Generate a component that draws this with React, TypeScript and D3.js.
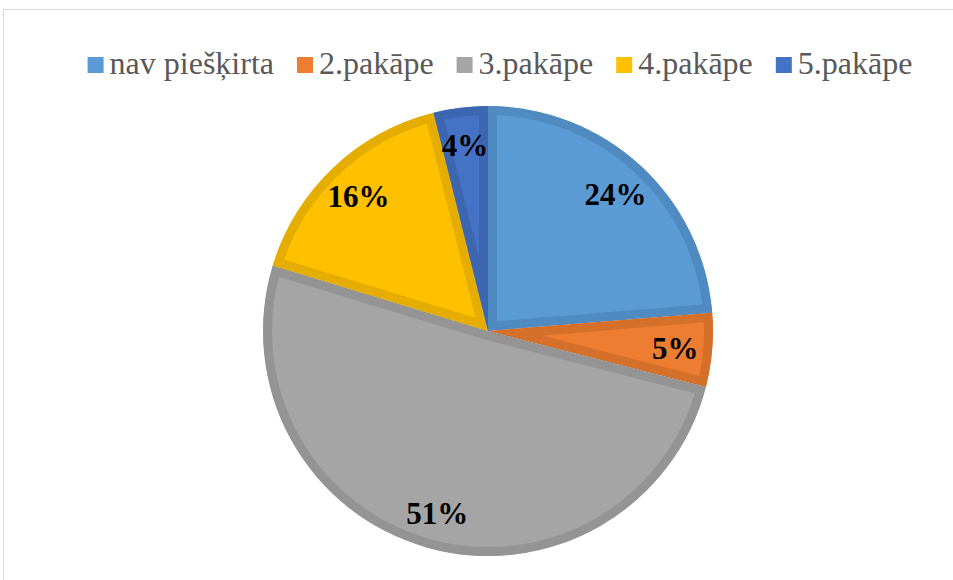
import * as d3 from "d3"
import React, { useEffect, useRef } from "react"

const categories = ["nav piešķirta", "2.pakāpe", "3.pakāpe", "4.pakāpe", "5.pakāpe"]
const shares = [23.7, 5.3, 50.7, 16.4, 3.9]
const fills = ["#5B9BD5", "#ED7D31", "#A5A5A5", "#FFC000", "#4472C4"]
const borders = ["#4F8AC0", "#D5702B", "#949494", "#E5AD00", "#3D66B0"]

const W = 953
const H = 580
const FONT = "Liberation Serif, Times New Roman, serif"

const App = () => {
    const ref = useRef<SVGSVGElement>(null)

    useEffect(() => {
        const svg = d3.select(ref.current)
        svg.selectAll("*").remove()

        // chart frame
        svg.append("rect")
            .attr("x", 3.5).attr("y", 9.5)
            .attr("width", W).attr("height", H)
            .attr("fill", "#fff")
            .attr("stroke", "#D9D9D9")
            .attr("stroke-width", 1)

        const cx = 488
        const cy = 331
        const radius = 225

        const pie = d3.pie<number>().sort(null).value(d => d)
        const arcs = pie(shares)
        const arc = d3.arc<d3.PieArcDatum<number>>().innerRadius(0).outerRadius(radius)
        const labelArc = d3.arc<d3.PieArcDatum<number>>().innerRadius(188).outerRadius(188)

        const gPie = svg.append("g").attr("transform", `translate(${cx},${cy})`)
        const defs = svg.append("defs")

        arcs.forEach((a, i) => {
            defs.append("clipPath").attr("id", `slice-${i}`)
                .append("path").attr("d", arc(a))
        })

        // each slice keeps its darker border inside itself
        gPie.selectAll(".slice")
            .data(arcs)
            .join("path")
            .attr("class", "slice")
            .attr("d", d => arc(d))
            .attr("fill", (d, i) => fills[i])
            .attr("stroke", (d, i) => borders[i])
            .attr("stroke-width", 18)
            .attr("stroke-linejoin", "miter")
            .attr("clip-path", (d, i) => `url(#slice-${i})`)

        gPie.selectAll(".label")
            .data(arcs)
            .join("text")
            .attr("class", "label")
            .attr("transform", d => `translate(${labelArc.centroid(d)})`)
            .attr("text-anchor", "middle")
            .attr("dy", "0.38em")
            .attr("font-family", FONT)
            .attr("font-weight", "bold")
            .attr("font-size", 31)
            .attr("fill", "#000")
            .text(d => `${Math.round(d.data)}%`)

        // legend
        const box = 16
        const gLegend = svg.append("g")
        const items = gLegend.selectAll(".item")
            .data(categories)
            .join("g")
            .attr("class", "item")
        items.append("rect")
            .attr("width", box).attr("height", box)
            .attr("y", -17)
            .attr("fill", (d, i) => fills[i])
        const texts = items.append("text")
            .attr("x", box + 6)
            .attr("y", 0)
            .attr("font-family", FONT)
            .attr("font-size", 32)
            .attr("fill", "#595959")
            .text(d => d)

        const widths: number[] = []
        texts.each(function () {
            widths.push(box + 6 + (this as SVGTextElement).getComputedTextLength())
        })
        const gap = 23
        const total = d3.sum(widths) + gap * (widths.length - 1)
        let x = 500 - total / 2
        items.attr("transform", (d, i) => {
            const t = `translate(${x},${74})`
            x += widths[i] + gap
            return t
        })
    }, [])

    return (
        <svg ref={ref} width={W} height={H}
            style={{ position: "absolute", left: 0, top: 0, background: "#fff" }} />
    )
}

export default App
